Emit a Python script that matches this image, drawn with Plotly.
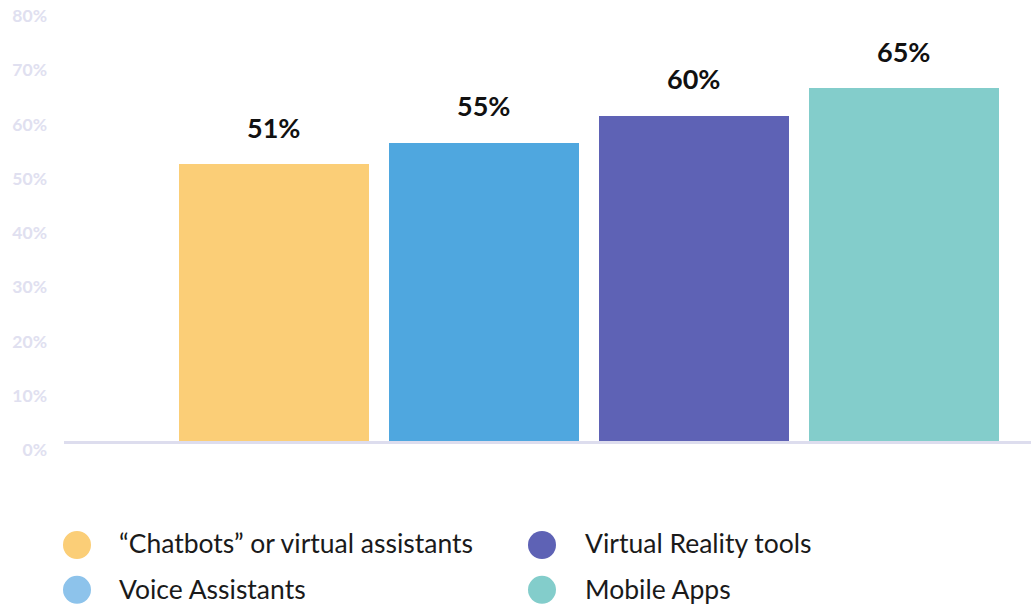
import plotly.graph_objects as go

categories = ["\u201cChatbots\u201d or virtual assistants", "Voice Assistants",
              "Virtual Reality tools", "Mobile Apps"]
values = [51, 55, 60, 65]
value_labels = ["51%", "55%", "60%", "65%"]
bar_colors = ["#FBCE77", "#4FA7DF", "#5E62B5", "#83CDCB"]
legend_colors = ["#FBCE77", "#8DC3EB", "#5E62B5", "#83CDCB"]
tick_vals = [0, 10, 20, 30, 40, 50, 60, 70, 80]
tick_text = ["0%", "10%", "20%", "30%", "40%", "50%", "60%", "70%", "80%"]

xs = list(range(len(categories)))

fig = go.Figure()
fig.add_trace(go.Bar(
    x=xs, y=values, width=0.905,
    marker=dict(color=bar_colors, line=dict(width=0)),
    showlegend=False, hoverinfo="skip",
))

for x, v, t in zip(xs, values, value_labels):
    fig.add_annotation(x=x, y=v, text=t, showarrow=False, yanchor="middle",
                       yshift=37, font=dict(family="Lato", size=27, color="#111111", weight=700))

# legend built from categories (2 columns)
legend_pos = [(0, 0), (0, 1), (1, 0), (1, 1)]
col_circle_x = [0.01344, 0.4943]
col_text_x = [0.0548, 0.5367]
row_circle_y = [-0.2396, -0.343]
row_text_y = [-0.235, -0.341]
for name, col, (c, r) in zip(categories, legend_colors, legend_pos):
    fig.add_shape(type="circle", xref="paper", yref="paper",
                  xsizemode="pixel", ysizemode="pixel",
                  xanchor=col_circle_x[c], yanchor=row_circle_y[r],
                  x0=-14, x1=14, y0=-14, y1=14,
                  fillcolor=col, line=dict(width=0))
    fig.add_annotation(xref="paper", yref="paper", x=col_text_x[c], y=row_text_y[r],
                       xanchor="left", yanchor="middle", text=name, showarrow=False,
                       font=dict(family="Lato", size=26.5, color="#1a1a1a"))

fig.update_layout(
    width=1031, height=605,
    margin=dict(l=64, r=0, t=7, b=164),
    plot_bgcolor="white", paper_bgcolor="white",
    bargap=0,
    xaxis=dict(range=[-1.0, 3.605], showticklabels=False, showgrid=False,
               zeroline=False, showline=True, linecolor="#DDDDEE", linewidth=3,
               fixedrange=True),
    yaxis=dict(range=[0, 80.01], tickvals=tick_vals, ticktext=tick_text,
               showgrid=False, zeroline=False, showline=False,
               tickfont=dict(family="Lato", size=17.5, color="#E0E0F0", weight=700),
               ticklabelshift=9, ticklabelstandoff=16),
)

fig.write_html("out.html", config={"displayModeBar": False},
               post_script="document.body.style.margin='0';document.body.style.padding='0';")
